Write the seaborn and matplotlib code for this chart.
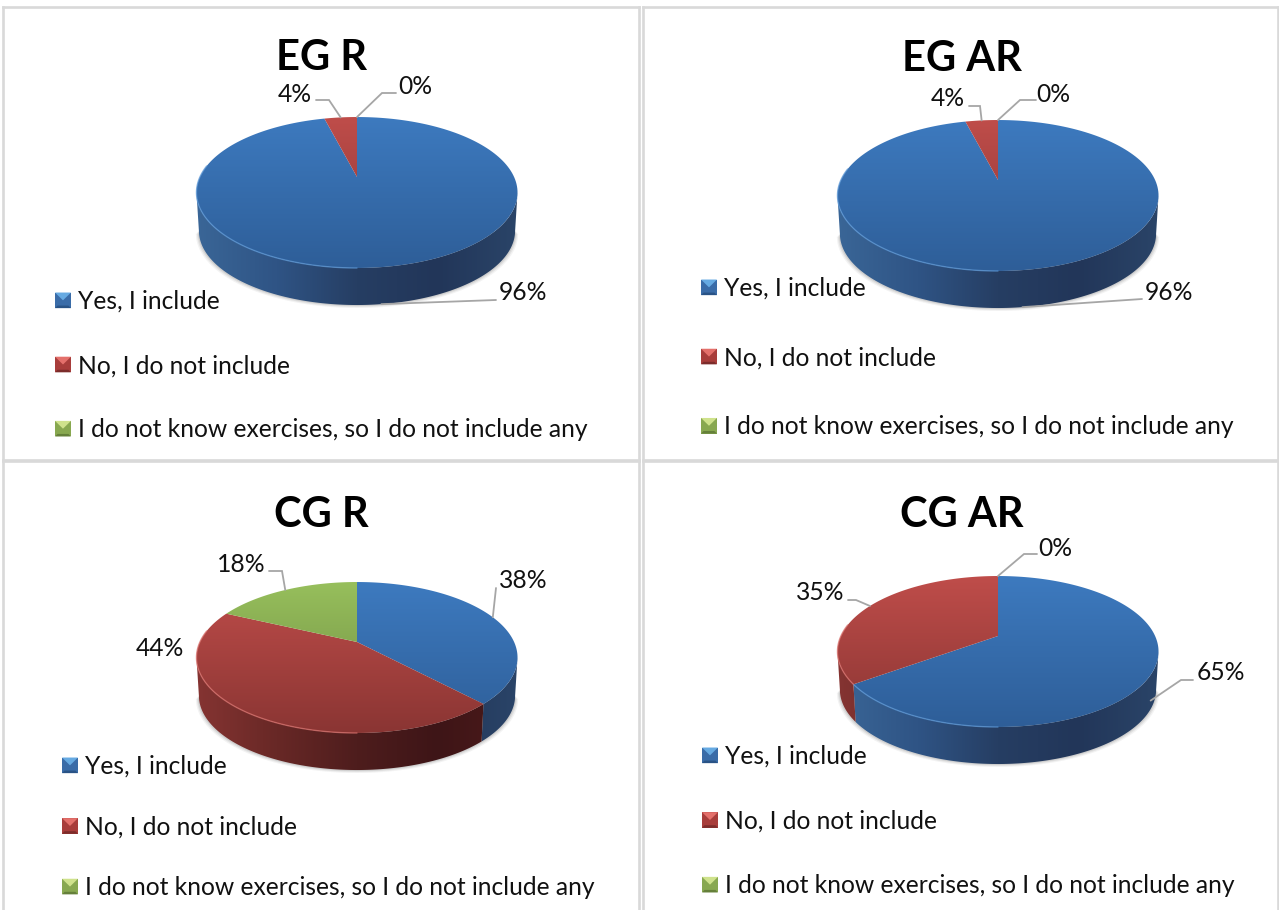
import numpy as np
import matplotlib
matplotlib.use("Agg")
import matplotlib.pyplot as plt
from matplotlib.legend_handler import HandlerBase
from matplotlib.patches import Patch, Polygon, Rectangle
import seaborn as sns

# Survey shares (percent) per group
categories = ["Yes, I include", "No, I do not include", "I do not know exercises, so I do not include any"]
eg_r_values = [96, 4, 0]
eg_ar_values = [96, 4, 0]
cg_r_values = [38, 44, 18]
cg_ar_values = [65, 35, 0]
panel_titles = ["EG R", "EG AR", "CG R", "CG AR"]

WIDTH, HEIGHT = 1279, 910

sns.set_theme(style="white")
plt.rcParams["font.family"] = ["Lato", "DejaVu Sans"]

# Face shading per category: top surface (vertical) and side wall (horizontal)
top_maps = [
    sns.blend_palette(["#3d7abf", "#2e5e98"], as_cmap=True),
    sns.blend_palette(["#bf4d4a", "#8a3533"], as_cmap=True),
    sns.blend_palette(["#97bf5c", "#6c8a40"], as_cmap=True),
]
wall_maps = [
    sns.blend_palette(["#3a6697", "#2f5485", "#263e63", "#223659", "#2a4468"], as_cmap=True),
    sns.blend_palette(["#853432", "#682826", "#4e1d1d", "#3e1517", "#4c1a1a"], as_cmap=True),
    sns.blend_palette(["#6c8a40", "#586f34", "#455829", "#3a4a22", "#445628"], as_cmap=True),
]
rim_colors = ["#5b97d6", "#d9706c", "#b4d57c"]
bevel_colors = [
    ("#66aae2", "#3a6ca8", "#295386"),
    ("#e4706b", "#a83d3b", "#7c2c2b"),
    ("#cfe28c", "#88a850", "#65803a"),
]

# Perspective of the disc: tilt, half-axes and thickness in pixels
TILT = 0.2054
AX_X, AX_Y = 157.1, 72.3
LOWER_SCALE, LOWER_DROP = 0.985, 38.4


def rim(theta, cx, apex, lower=False):
    """Project clockwise angles (radians from 12 o'clock) onto the disc edge."""
    u, v = np.sin(theta), np.cos(theta)
    w = 1 + TILT * v
    scale = LOWER_SCALE if lower else 1.0
    drop = LOWER_DROP if lower else 0.0
    return cx + scale * AX_X * u / w, apex - scale * AX_Y * v / w + drop


class BevelHandler(HandlerBase):
    """Legend key drawn as a small pillow-bevelled square."""

    def create_artists(self, legend, orig, xd, yd, w, h, fontsize, trans):
        light, body, dark = orig.bevel
        x0, y0 = -xd, -yd
        s = 0.16 * w
        parts = [
            Rectangle((x0, y0), w, h, fc=body, ec="none"),
            Polygon([(x0, y0 + h), (x0 + w, y0 + h), (x0 + w / 2, y0 + h * 0.5)], fc=light, ec="none"),
            Polygon([(x0, y0), (x0 + w, y0), (x0 + w - s, y0 + s), (x0 + s, y0 + s)], fc=dark, ec="none"),
        ]
        for p in parts:
            p.set_transform(trans)
        return parts


def draw_panel(frame, values, title, title_xy, cx, top, legend_xy, legend_gap, callouts, show_bottom=True):
    x0, y0, x1, y1 = frame
    ax = fig.add_axes([x0 / WIDTH, 1 - y1 / HEIGHT, (x1 - x0) / WIDTH, (y1 - y0) / HEIGHT])
    ax.set_xticks([])
    ax.set_yticks([])
    for name, spine in ax.spines.items():
        spine.set_color("#d9d9d9")
        spine.set_linewidth(1.9)
        spine.set_visible(name != "bottom" or show_bottom)

    apex = top + 60
    bottom = top + 151 + 37
    left, right = cx - 161, cx + 161
    edges = np.cumsum([0] + list(values)) / 100 * 2 * np.pi
    theta_vis = np.arccos(-TILT)

    # Soft contact shadow under the disc
    t = np.linspace(theta_vis, 2 * np.pi - theta_vis, 200)
    lx, ly = rim(t, cx, apex, lower=True)
    for grow, alpha in [(3.0, 0.07), (2.0, 0.10), (1.0, 0.14)]:
        gx = cx + (lx - cx) * (1 + grow / 158)
        gy = ly + grow
        ax.add_patch(Polygon(np.column_stack([gx, gy]), fc="#555555", ec="none", alpha=alpha, zorder=1))

    v_grad = np.linspace(0, 1, 256)[:, None]
    h_grad = np.linspace(0, 1, 256)[None, :]

    for i, value in enumerate(values):
        if value == 0:
            continue
        a, b = edges[i], edges[i + 1]

        # Side wall of the slice, limited to the front of the disc
        wa, wb = max(a, theta_vis), min(b, 2 * np.pi - theta_vis)
        if wb > wa:
            t = np.linspace(wa, wb, 160)
            ux, uy = rim(t, cx, apex)
            lx, ly = rim(t[::-1], cx, apex, lower=True)
            wall = Polygon(np.column_stack([np.r_[ux, lx], np.r_[uy, ly]]), fc="none", ec="none",
                           transform=ax.transData)
            ax.add_patch(wall)
            im = ax.imshow(h_grad, cmap=wall_maps[i], extent=(left, right, bottom + 2, top), aspect="auto",
                           interpolation="bilinear", zorder=2, vmin=0, vmax=1)
            im.set_clip_path(wall)

        # Top surface of the slice
        t = np.linspace(a, b, 200)
        ex, ey = rim(t, cx, apex)
        face = Polygon(np.column_stack([np.r_[cx, ex], np.r_[apex, ey]]), fc="none", ec="none",
                       transform=ax.transData)
        ax.add_patch(face)
        im = ax.imshow(v_grad, cmap=top_maps[i], extent=(left, right, top + 151, top), aspect="auto",
                       interpolation="bilinear", zorder=3, vmin=0, vmax=1)
        im.set_clip_path(face)

        # Lit edge along the front left of the rim
        ha, hb = max(a, np.pi), min(b, np.pi * 1.55)
        if hb > ha:
            t = np.linspace(ha, hb, 100)
            hx, hy = rim(t, cx, apex)
            ax.plot(hx, hy, color=rim_colors[i], lw=1.0, alpha=0.7, zorder=4, solid_capstyle="round")

    # Value labels, with leaders running to the middle of each slice
    for i, (value, spec) in enumerate(zip(values, callouts)):
        lab_x, lab_y, elbow, wall_frac = spec
        ax.text(lab_x, lab_y, f"{value}%", ha="center", va="center", fontsize=LABEL_SIZE, color="#111111", zorder=6)
        if elbow is None:
            continue
        mid = (edges[i] + edges[i + 1]) / 2
        ux, uy = rim(mid, cx, apex)
        lx, ly = rim(mid, cx, apex, lower=True)
        px = ux + (lx - ux) * wall_frac
        py = uy + (ly - uy) * wall_frac
        xs = [p[0] for p in elbow] + [px]
        ys = [p[1] for p in elbow] + [py]
        ax.plot(xs, ys, color="#a6a6a6", lw=1.3, zorder=5, solid_joinstyle="miter")

    ax.text(title_xy[0], title_xy[1], title, ha="center", va="center", fontsize=TITLE_SIZE,
            fontweight="bold", color="black", zorder=6)

    handles = []
    for bevel in bevel_colors:
        h = Patch()
        h.bevel = bevel
        handles.append(h)
    ax.legend(handles, categories, handler_map={Patch: BevelHandler()}, loc="upper left",
              bbox_to_anchor=legend_xy, bbox_transform=ax.transData, frameon=False, borderpad=0,
              borderaxespad=0, fontsize=LABEL_SIZE, labelspacing=legend_gap, handlelength=0.65,
              handleheight=0.6, handletextpad=0.28, labelcolor="#111111")

    ax.set_xlim(x0, x1)
    ax.set_ylim(y1, y0)
    return ax


LABEL_SIZE = 17.7
TITLE_SIZE = 30

fig = plt.figure(figsize=(WIDTH / 100, HEIGHT / 100), dpi=100, facecolor="white")

draw_panel((3, 7, 639, 460), eg_r_values, panel_titles[0], (322, 58), 357, 117, (55, 290), 1.675,
           [(523, 293, [(496, 300)], 1.0),
            (295, 94, [(316, 100), (329, 100)], 0.0),
            (415, 86, [(396, 93), (382, 93)], 0.0)])
draw_panel((643, 7, 1278, 460), eg_ar_values, panel_titles[1], (962, 59), 998, 120, (701, 277), 1.88,
           [(1169, 292, [(1142, 299)], 1.0),
            (948, 99, [(969, 106), (980, 106)], 0.0),
            (1053, 94, [(1036, 100), (1020, 100)], 0.0)])
draw_panel((3, 461, 639, 910), cg_r_values, panel_titles[2], (321, 515), 357, 582, (62, 755), 1.53,
           [(523, 581, [(496, 588)], 0.0),
            (160, 648, None, 0.0),
            (241, 564, [(269, 571), (282, 571)], 0.0)], show_bottom=False)
draw_panel((643, 461, 1278, 910), cg_ar_values, panel_titles[3], (962, 515), 998, 576, (702, 745), 1.695,
           [(1221, 673, [(1193, 680), (1181, 680)], 0.75),
            (820, 593, [(848, 600), (856, 600)], 0.0),
            (1055, 548, [(1037, 554), (1024, 554)], 0.0)], show_bottom=False)

fig.savefig("out.png", dpi=100, facecolor="white")
